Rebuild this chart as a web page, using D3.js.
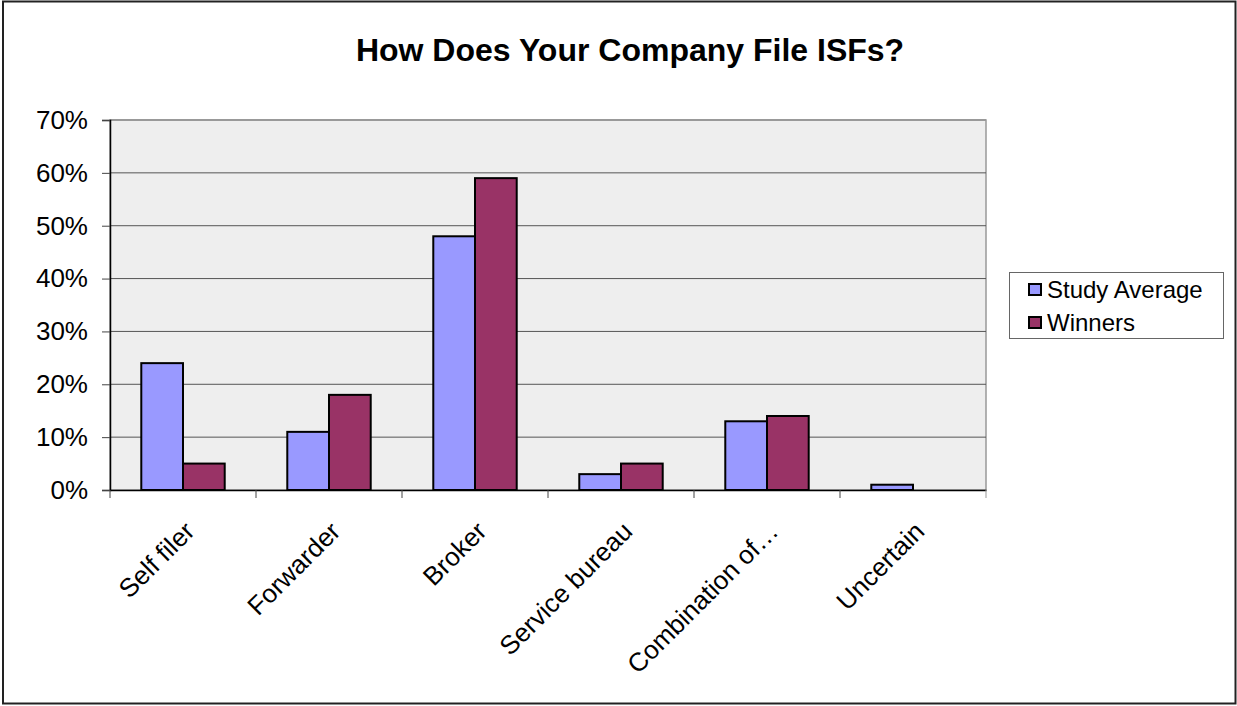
<!DOCTYPE html>
<html><head><meta charset="utf-8">
<script src="https://cdn.jsdelivr.net/npm/d3@7"></script>
<style>body{margin:0;background:#fff}svg{display:block;font-family:Arial,"Liberation Sans",sans-serif}</style>
</head><body>
<svg id="c" width="1237" height="706"></svg>
<script>
const categories = ["Self filer","Forwarder","Broker","Service bureau","Combination of…","Uncertain"];
const seriesNames = ["Study Average","Winners"];
const studyAverage = [24,11,48,3,13,1];
const winners = [5,18,59,5,14,0];
const yTicks = [0,10,20,30,40,50,60,70];
const colors = ["#9999ff","#993366"];

const svg = d3.select("#c");
svg.append("rect").attr("x",3).attr("y",1.5).attr("width",1232.5).attr("height",702)
  .attr("fill","#fff").attr("stroke","#222").attr("stroke-width",2);

const L=110,R=986,T=120,B=490;
const x = d3.scaleBand().domain(categories).range([L,R]);
const xs = d3.scaleBand().domain(seriesNames).range([0,x.bandwidth()]).paddingOuter(0.75).paddingInner(0);
const y = d3.scaleLinear().domain([0,70]).range([B,T]);

svg.append("rect").attr("x",L).attr("y",T).attr("width",R-L).attr("height",B-T).attr("fill","#eeeeee")
  .attr("stroke","#999").attr("stroke-width",1.5);

// gridlines
svg.append("g").selectAll("line").data(yTicks.filter(d=>d>0)).join("line")
  .attr("x1",L).attr("x2",R).attr("y1",d=>y(d)).attr("y2",d=>y(d))
  .attr("stroke",d=>d===70?"#999":"#555").attr("stroke-width",d=>d===70?2:1);

// y axis
const ya = svg.append("g").attr("transform",`translate(${L},0)`)
  .call(d3.axisLeft(y).tickValues(yTicks).tickFormat(d=>d+"%").tickSize(8).tickPadding(14));
ya.select(".domain").attr("stroke","#000").attr("stroke-width",1.5);
ya.selectAll(".tick line").attr("stroke","#444");
ya.selectAll("text").attr("font-size",26).attr("fill","#000").attr("font-family","Arial, 'Liberation Sans', sans-serif");

// bars
const data = categories.map((c,i)=>({c, vals:[studyAverage[i],winners[i]]}));
const g = svg.append("g");
data.forEach(d=>{
  d.vals.forEach((v,j)=>{
    const s = seriesNames[j];
    if(v<=0) return;
    g.append("rect").attr("x",x(d.c)+xs(s)).attr("width",xs.bandwidth())
      .attr("y",y(v)).attr("height",B-y(v))
      .attr("fill",colors[j]).attr("stroke","#000").attr("stroke-width",2);
  });
});

// x axis
const xa = svg.append("g").attr("transform",`translate(0,${B})`)
  .call(d3.axisBottom(x).tickSize(0).tickFormat(""));
xa.select(".domain").attr("stroke","#000").attr("stroke-width",1.5);
svg.append("g").selectAll("line").data(d3.range(categories.length+1)).join("line")
  .attr("x1",i=>L+i*x.step()).attr("x2",i=>L+i*x.step()).attr("y1",B).attr("y2",B+8)
  .attr("stroke",(i)=>i===categories.length?"#999":"#444").attr("stroke-width",1);

svg.append("g").selectAll("text").data(categories).join("text")
  .attr("transform",d=>`translate(${x(d)+x.bandwidth()/2+13},${B+43}) rotate(-45)`)
  .attr("text-anchor","end").attr("font-size",26).attr("fill","#000").text(d=>d);

// title
svg.append("text").attr("x",630).attr("y",61).attr("text-anchor","middle")
  .attr("font-size",32).attr("font-weight","bold").text("How Does Your Company File ISFs?");

// legend
const lg = svg.append("g");
lg.append("rect").attr("x",1009.5).attr("y",272.5).attr("width",214).attr("height",66)
  .attr("fill","#fff").attr("stroke","#666").attr("stroke-width",1);
seriesNames.forEach((s,i)=>{
  lg.append("rect").attr("x",1029).attr("y",284+i*33).attr("width",12).attr("height",11)
    .attr("fill",colors[i]).attr("stroke","#000").attr("stroke-width",2);
  lg.append("text").attr("x",1047).attr("y",298+i*33).attr("font-size",24).text(s);
});
</script>
</body></html>
